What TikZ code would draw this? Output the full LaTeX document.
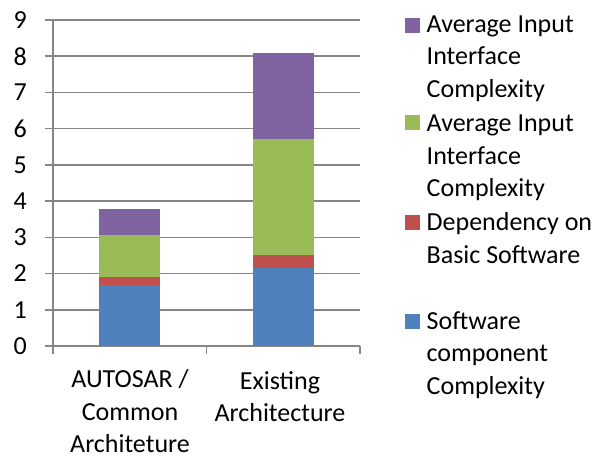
\documentclass[tikz,border=0pt]{standalone}
\usepackage{fontspec}
\setmainfont{Carlito}
\definecolor{swblue}{HTML}{4F81BD}
\definecolor{bswred}{HTML}{C0504D}
\definecolor{ifgreen}{HTML}{9BBB59}
\definecolor{ifpurple}{HTML}{8064A2}
\definecolor{gridgray}{HTML}{868686}

\begin{document}
\begin{tikzpicture}[x=1pt,y=-1pt,
    gridline/.style={gridgray,line width=1.6pt},
    lbl/.style={font=\fontsize{26}{32.5}\selectfont,inner sep=0pt},
    key/.style={inner sep=0pt,minimum size=15pt}]
  \useasboundingbox (0,0) rectangle (598,458);
  \begin{scope}[shift={(53,346)},x=1pt,y=36.22pt]
    % grid and value axis
    \foreach \v in {0,...,9}{
      \draw[gridline] (-8.5,\v) -- (307,\v);
      \node[lbl,anchor=east] (v\v) at (-26,\v) {\v};
    }
    \draw[gridline] (0,0) -- (0,9);
    \foreach \t in {0,153.5,307}
      \draw[gridline] (\t,0) -- (\t,-0.22);
    % stacked bars
    \foreach \c/\a/\b/\d/\e in {76.75/1.68/1.91/3.06/3.78, 230.25/2.15/2.50/5.71/8.08}{
      \fill[swblue] (\c-30.5,0) rectangle (\c+30.5,\a);
      \fill[bswred] (\c-30.5,\a) rectangle (\c+30.5,\b);
      \fill[ifgreen] (\c-30.5,\b) rectangle (\c+30.5,\d);
      \fill[ifpurple] (\c-30.5,\d) rectangle (\c+30.5,\e);
    }
  \end{scope}
  % category labels (base = last line)
  \node[lbl,align=center,anchor=base] (autosar) at (130,452.5) {AUTOSAR /\\Common\\Architeture};
  \node[lbl,align=center,anchor=base] (existing) at (280,421.5) {Existing\\Architecture};
  % legend
  \node[key,fill=ifpurple] (k1) at (412.5,25.3) {};
  \node[key,fill=ifgreen] (k2) at (412.5,122.5) {};
  \node[key,fill=bswred] (k3) at (412.5,222.5) {};
  \node[key,fill=swblue] (k4) at (412.5,321.3) {};
  \node[lbl,align=left,anchor=base west] (t1) at (426.5,97.3) {Average Input\\Interface\\Complexity};
  \node[lbl,align=left,anchor=base west] (t2) at (426.5,196.7) {Average Input\\Interface\\Complexity};
  \node[lbl,align=left,anchor=base west] (t3) at (426.5,263) {Dependency on\\Basic Software};
  \node[lbl,align=left,anchor=base west] (t4) at (426.5,394.3) {Software\\component\\Complexity};
\end{tikzpicture}
\end{document}
